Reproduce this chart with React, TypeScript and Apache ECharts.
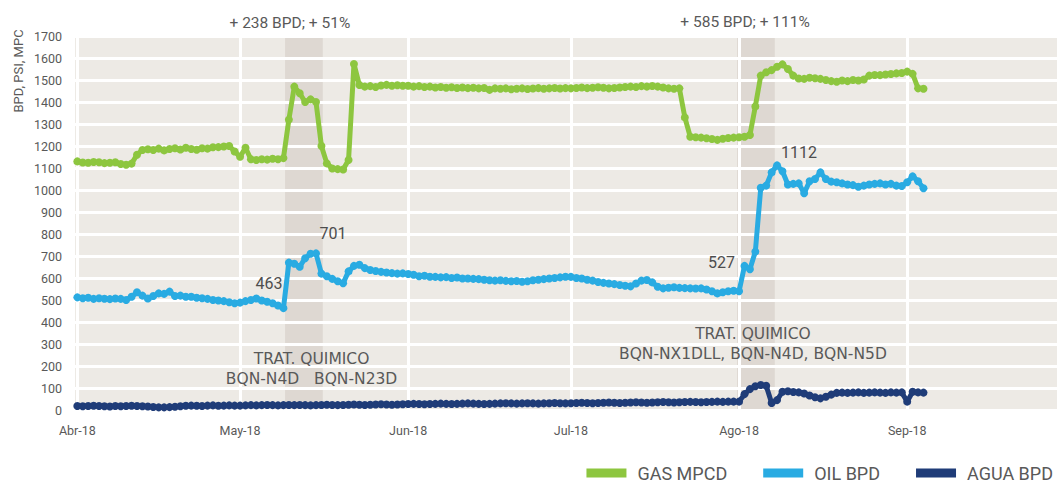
import React, { useEffect, useRef } from 'react';
import * as echarts from 'echarts';

// ---- data ----
const START_DATE = '2018-04-01T00:00:00Z';
const AXIS_MIN = '2018-03-31T04:48:00Z';
const AXIS_MAX = '2018-09-28T19:12:00Z';
const monthNames = ['Ene', 'Feb', 'Mar', 'Abr', 'May', 'Jun', 'Jul', 'Ago', 'Sep', 'Oct', 'Nov', 'Dic'];
const legendNames = ['GAS MPCD', 'OIL BPD', 'AGUA BPD'];

const gasApr = [1130,1125,1124,1127,1126,1122,1124,1126,1118,1115,1120,1160,1182,1185,1182,1188,1180,1186,1190,1184,1192,1186,1183,1190,1188,1194,1195,1198,1200,1175];
const gasMay = [1151,1192,1140,1136,1140,1138,1142,1140,1145,1320,1470,1440,1400,1412,1400,1200,1121,1098,1095,1093,1136,1573,1477,1470,1472,1468,1475,1478,1474,1476,1474];
const gasJun = [1474,1470,1472,1468,1470,1466,1468,1465,1467,1464,1466,1463,1465,1462,1464,1455,1462,1460,1462,1458,1460,1462,1459,1461,1463,1460,1462,1464,1461,1463];
const gasJul = [1462,1464,1466,1463,1465,1467,1465,1462,1464,1466,1468,1470,1468,1472,1470,1473,1470,1466,1462,1460,1462,1330,1242,1240,1238,1235,1232,1228,1233,1236,1238];
const gasAug = [1240,1242,1250,1380,1520,1535,1545,1560,1571,1550,1520,1507,1505,1510,1508,1505,1500,1495,1492,1498,1495,1500,1498,1502,1520,1523,1522,1525,1527,1530,1532];
const gasSep = [1538,1528,1462,1460];

const oilApr = [512,508,510,505,508,506,504,507,505,500,515,535,520,507,518,530,528,538,518,520,515,515,510,508,505,500,498,495,490,485];
const oilMay = [488,495,500,507,498,492,485,475,463,670,665,651,690,710,712,620,608,596,585,576,630,655,660,645,636,632,628,625,622,620,621];
const oilJun = [618,615,608,610,606,605,603,604,600,602,598,598,596,595,592,590,588,590,587,585,586,583,585,590,592,595,598,600,603,606];
const oilJul = [605,600,598,592,588,582,578,575,572,568,565,562,575,588,591,580,560,553,556,558,555,554,553,552,553,548,540,530,535,540,542];
const oilAug = [540,655,640,720,1010,1020,1080,1112,1085,1025,1028,1030,985,1040,1050,1080,1050,1038,1035,1030,1025,1022,1015,1020,1025,1028,1030,1025,1028,1020,1018];
const oilSep = [1035,1062,1040,1008];

const aguaApr = [18,17,18,19,18,17,16,18,17,18,19,18,17,16,14,12,12,13,15,17,19,20,19,18,20,21,19,20,21,20];
const aguaMay = [20,21,22,21,22,23,22,21,22,23,22,23,22,21,22,23,24,23,22,23,24,25,24,23,24,25,26,25,24,25,26];
const aguaJun = [27,28,27,26,27,28,29,28,27,28,29,30,29,28,27,28,29,30,31,30,29,30,31,30,29,30,31,32,31,30];
const aguaJul = [31,32,33,32,31,32,33,34,33,32,33,34,35,34,33,34,35,36,35,34,35,36,37,36,35,36,37,38,37,38,38];
const aguaAug = [38,72,95,108,114,110,32,45,83,85,82,80,75,66,58,53,60,70,78,79,78,79,80,78,79,80,79,78,80,79,80];
const aguaSep = [38,83,80,79];

const treatments = [
  { from: '2018-05-09T07:00:00Z', to: '2018-05-16T06:00:00Z' },
  { from: '2018-07-31T15:00:00Z', to: '2018-08-07T14:00:00Z' },
];

// annotations: [date, value, text]
const headerNotes: [string, number, string][] = [
  ['2018-05-10T00:00:00Z', 1700, '+ 238 BPD; + 51%'],
  ['2018-08-01T00:00:00Z', 1700, '+ 585 BPD; + 111%'],
];
const treatNotes: [string, number, string][] = [
  ['2018-05-14T00:00:00Z', 187, 'TRAT. QUIMICO\nBQN-N4D   BQN-N23D'],
  ['2018-08-03T00:00:00Z', 302, 'TRAT. QUIMICO\nBQN-NX1DLL, BQN-N4D, BQN-N5D'],
];
const valueNotes: [string, number, string][] = [
  ['2018-05-09T00:00:00Z', 463, '463'],
  ['2018-05-14T00:00:00Z', 710, '701'],
  ['2018-08-01T00:00:00Z', 540, '527'],
  ['2018-08-08T00:00:00Z', 1112, '1112'],
];

const DAY = 86400000;
function toPairs(months: number[][]) {
  const t0 = Date.parse(START_DATE);
  return months.flat().map((v, i) => [t0 + i * DAY, v]);
}

const TXT = '#595959';
const FONT = 'Roboto, "Noto Sans", sans-serif';

export default function App() {
  const ref = useRef<HTMLDivElement>(null);
  useEffect(() => {
    if (!ref.current) return;
    const chart = echarts.init(ref.current, undefined, { renderer: 'svg' });

    const lineSeries = (name: string, color: string, data: number[][], extra: any = {}) => ({
      name,
      type: 'line',
      data,
      z: 3,
      symbol: 'circle',
      symbolSize: 8,
      showSymbol: true,
      lineStyle: { color, width: 5 },
      itemStyle: { color },
      emphasis: { disabled: true },
      ...extra,
    });

    const valueMarks = valueNotes.map(([d, v, t], i) => {
      const cfg = [
        { align: 'right', offset: [-1, -25] },
        { align: 'left', offset: [9, -20] },
        { align: 'right', offset: [-4, -29] },
        { align: 'left', offset: [4, -13] },
      ][i];
      return {
        coord: [Date.parse(d), v],
        symbolSize: 0,
        label: {
          show: true,
          position: 'inside',
          formatter: t,
          color: '#4D4D4D',
          fontSize: 16,
          fontFamily: FONT,
          align: cfg.align,
          verticalAlign: 'middle',
          offset: cfg.offset,
        },
      };
    });

    const noteMarks = [
      ...headerNotes.map(([d, v, t], i) => ({
        coord: [Date.parse(d), v],
        symbolSize: 0,
        label: {
          show: true,
          position: 'inside',
          formatter: t,
          color: TXT,
          fontSize: 15.5,
          fontFamily: FONT,
          align: 'center',
          verticalAlign: 'middle',
          offset: i === 0 ? [1, -13] : [6, -14],
        },
      })),
      ...treatNotes.map(([d, v, t], i) => ({
        coord: [Date.parse(d), v],
        symbolSize: 0,
        label: {
          show: true,
          position: 'inside',
          formatter: t,
          color: TXT,
          fontSize: 15.5,
          lineHeight: 20,
          fontFamily: '"DejaVu Sans", sans-serif',
          align: 'center',
          verticalAlign: 'middle',
          offset: i === 0 ? [1, 0] : [3, 0],
        },
      })),
    ];

    chart.setOption({
      animation: false,
      useUTC: true,
      grid: {
        left: 73,
        right: 4,
        top: 36,
        bottom: 75,
        show: true,
        backgroundColor: '#EDEAE5',
        borderWidth: 0,
      },
      legend: {
        data: legendNames,
        right: 4,
        top: 459,
        icon: 'rect',
        itemWidth: 40,
        itemHeight: 9,
        itemGap: 36,
        selectedMode: false,
        textStyle: { color: TXT, fontSize: 18, fontFamily: FONT, padding: [0, 0, 0, 6] },
      },
      xAxis: {
        type: 'time',
        z: 2,
        min: Date.parse(AXIS_MIN),
        max: Date.parse(AXIS_MAX),
        splitNumber: 6,
        minInterval: 28 * DAY,
        maxInterval: 31 * DAY,
        axisLine: { show: false },
        axisTick: { show: false },
        splitLine: { show: true, lineStyle: { color: '#FFFFFF', width: 3 } },
        axisLabel: {
          color: TXT,
          fontSize: 12.5,
          fontFamily: FONT,
          margin: 14,
          formatter: (v: number) => {
            const d = new Date(v);
            return monthNames[d.getUTCMonth()] + '-' + String(d.getUTCFullYear()).slice(2);
          },
        },
      },
      yAxis: {
        type: 'value',
        z: 2,
        min: 0,
        max: 1700,
        interval: 100,
        axisLine: { show: false },
        axisTick: { show: false },
        splitLine: { show: true, lineStyle: { color: '#FFFFFF', width: 3 } },
        axisLabel: {
          color: TXT,
          fontSize: 12.5,
          fontFamily: FONT,
          margin: 11,
          formatter: (v: number) => String(v),
        },
      },
      graphic: [
        {
          type: 'text',
          x: 18,
          y: 71,
          rotation: Math.PI / 2,
          style: {
            text: 'BPD, PSI, MPC',
            fill: TXT,
            fontSize: 13,
            fontFamily: FONT,
            align: 'center',
            verticalAlign: 'middle',
          },
        },
      ],
      series: [
        {
          name: 'bands',
          type: 'line',
          data: [],
          z: 1,
          silent: true,
          markArea: {
            silent: true,
            itemStyle: { color: '#DED8D2' },
            data: treatments.map((b) => [{ xAxis: Date.parse(b.from) }, { xAxis: Date.parse(b.to) }]),
          },
        },
        lineSeries(legendNames[0], '#8DC63F', toPairs([gasApr, gasMay, gasJun, gasJul, gasAug, gasSep]), {
          markPoint: { silent: true, symbolSize: 0, data: noteMarks },
        }),
        lineSeries(legendNames[1], '#29ABE2', toPairs([oilApr, oilMay, oilJun, oilJul, oilAug, oilSep]), {
          markPoint: { silent: true, symbolSize: 0, data: valueMarks },
        }),
        lineSeries(legendNames[2], '#1F3C78', toPairs([aguaApr, aguaMay, aguaJun, aguaJul, aguaAug, aguaSep])),
      ],
    });
    return () => chart.dispose();
  }, []);

  return (
    <div
      ref={ref}
      style={{ position: 'fixed', left: 0, top: 0, width: 1062, height: 485, background: '#fff' }}
    />
  );
}
